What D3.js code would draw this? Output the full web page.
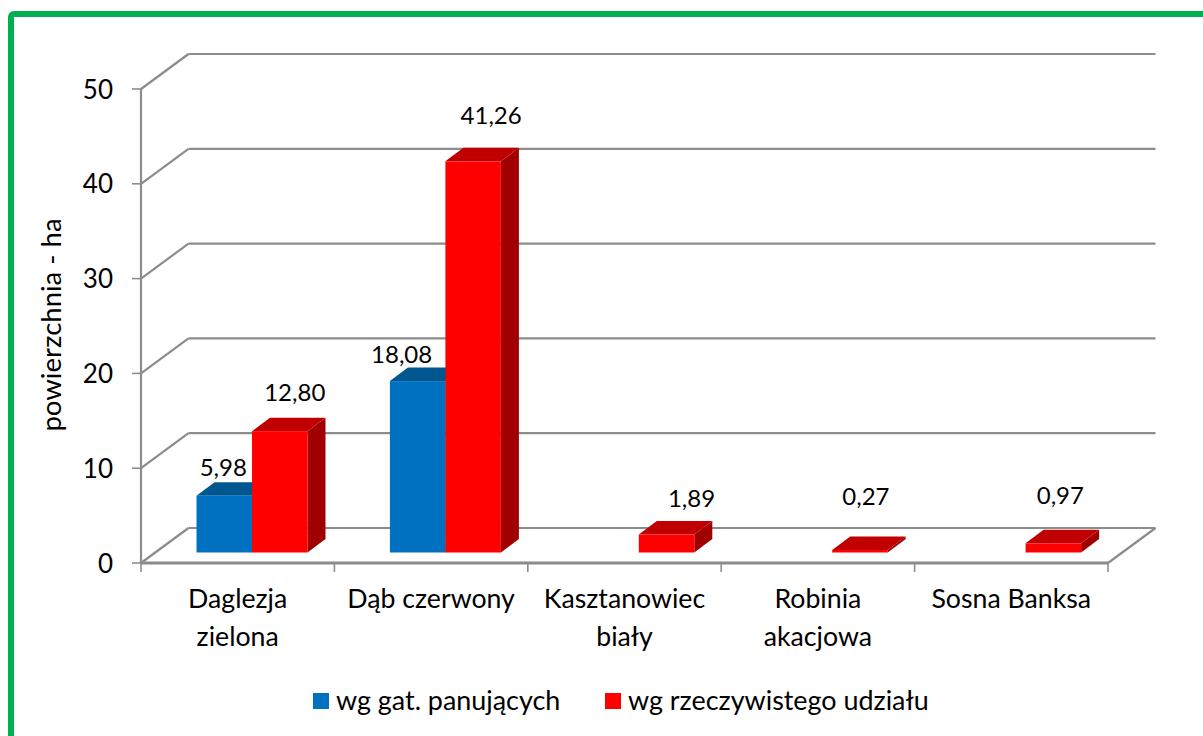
<!DOCTYPE html>
<html><head><meta charset="utf-8">
<script src="https://cdn.jsdelivr.net/npm/d3@7"></script>
<style>html,body{margin:0;padding:0;background:#fff;overflow:hidden}svg{display:block}text{font-family:Lato,"Open Sans",sans-serif;fill:#000}</style>
</head><body><svg id="c" width="1203" height="736"></svg>
<script>
const categories = [["Daglezja","zielona"],["Dąb czerwony"],["Kasztanowiec","biały"],["Robinia","akacjowa"],["Sosna Banksa"]];
const seriesNames = ["wg gat. panujących","wg rzeczywistego udziału"];
const dominant = [5.98,18.08,null,null,null];
const actual = [12.80,41.26,1.89,0.27,0.97];
const dominantLabels = ["5,98","18,08",null,null,null];
const actualLabels = ["12,80","41,26","1,89","0,27","0,97"];
const yTicks = [0,10,20,30,40,50];
const dominantNudge = [[-1,-28],[-16,-27]];
const actualNudge = [[15,-39],[18,-46],[25,-36],[6,-53],[7,-48]];

const svg = d3.select("#c");
const colors = [{front:"#0070C0",top:"#00568F",side:"#00568F"},{front:"#FF0000",top:"#C00000",side:"#A00000"}];
const grey = "#8C8C8C";
svg.append("rect").attr("x",11).attr("y",14).attr("width",1300).attr("height",900).attr("rx",3)
  .attr("fill","#fff").attr("stroke","#00B050").attr("stroke-width",6);

const X0=141,X1=1108,Y0=563,Y50=89, wallDx=47.5, wallDy=-35, barDx=18, barDy=-13.5, floorDy=-10.5;
const x = d3.scaleBand().domain(d3.range(categories.length)).range([X0,X1]);
const y = d3.scaleLinear().domain([0,50]).range([Y0,Y50]);
const inner = d3.scaleBand().domain([0,1]).range([55.5,166.5]);
const g = svg.append("g");
const line=(a,b,c,d,w=2.2)=>g.append("line").attr("x1",a).attr("y1",b).attr("x2",c).attr("y2",d).attr("stroke",grey).attr("stroke-width",w);

yTicks.forEach(t=>{
  const p=y(t);
  line(X0,p,X0+wallDx,p+wallDy);
  line(X0+wallDx,p+wallDy,X1+wallDx,p+wallDy);
  line(X0-9,p,X0,p,1.6);
  g.append("text").attr("x",113).attr("y",p+9.5).attr("text-anchor","end").attr("font-size",26).text(String(t));
});
line(X0,Y50,X0,Y0);
line(X0,Y0,X1,Y0,3);
line(X1,Y0,X1+wallDx,Y0+wallDy);
d3.range(categories.length+1).forEach(i=>{
  const px=X0+i*x.step();
  line(px,Y0,px,Y0+9,1.6);
});

function bar(i,s,v){
  const c=colors[s], bx=x(i)+inner(s), w=inner.bandwidth();
  const base=y(0)+floorDy, top=base-(y(0)-y(v));
  const pts=a=>a.map(p=>p.join(",")).join(" ");
  g.append("polygon").attr("fill",c.side).attr("points",pts([[bx+w,top],[bx+w+barDx,top+barDy],[bx+w+barDx,base+barDy],[bx+w,base]]));
  g.append("polygon").attr("fill",c.top).attr("points",pts([[bx,top],[bx+barDx,top+barDy],[bx+w+barDx,top+barDy],[bx+w,top]]));
  g.append("rect").attr("x",bx).attr("y",top).attr("width",w).attr("height",base-top).attr("fill",c.front);
  return {cx:bx+w/2,top};
}
const labelQueue=[];
categories.forEach((_,i)=>{
  if(dominant[i]!=null){const b=bar(i,0,dominant[i]);labelQueue.push([b,dominantLabels[i],dominantNudge[i]]);}
  if(actual[i]!=null){const b=bar(i,1,actual[i]);labelQueue.push([b,actualLabels[i],actualNudge[i]]);}
});
labelQueue.forEach(([b,t,n])=>{
  g.append("text").attr("x",b.cx+n[0]).attr("y",b.top+n[1]+8.5).attr("text-anchor","middle").attr("font-size",24).text(t);
});
categories.forEach((lines,i)=>{
  lines.forEach((t,j)=>g.append("text").attr("x",x(i)+x.bandwidth()/2).attr("y",608+j*38).attr("text-anchor","middle").attr("font-size",26.7).text(t));
});
svg.append("text").attr("transform","translate(61,325) rotate(-90)").attr("text-anchor","middle").attr("font-size",27.5).text("powierzchnia - ha");
const legendX=[313,605];
seriesNames.forEach((n,i)=>{
  svg.append("rect").attr("x",legendX[i]).attr("y",693).attr("width",16).attr("height",16).attr("fill",colors[i].front);
  svg.append("text").attr("x",legendX[i]+23).attr("y",710).attr("font-size",26.9).text(n);
});
</script></body></html>
